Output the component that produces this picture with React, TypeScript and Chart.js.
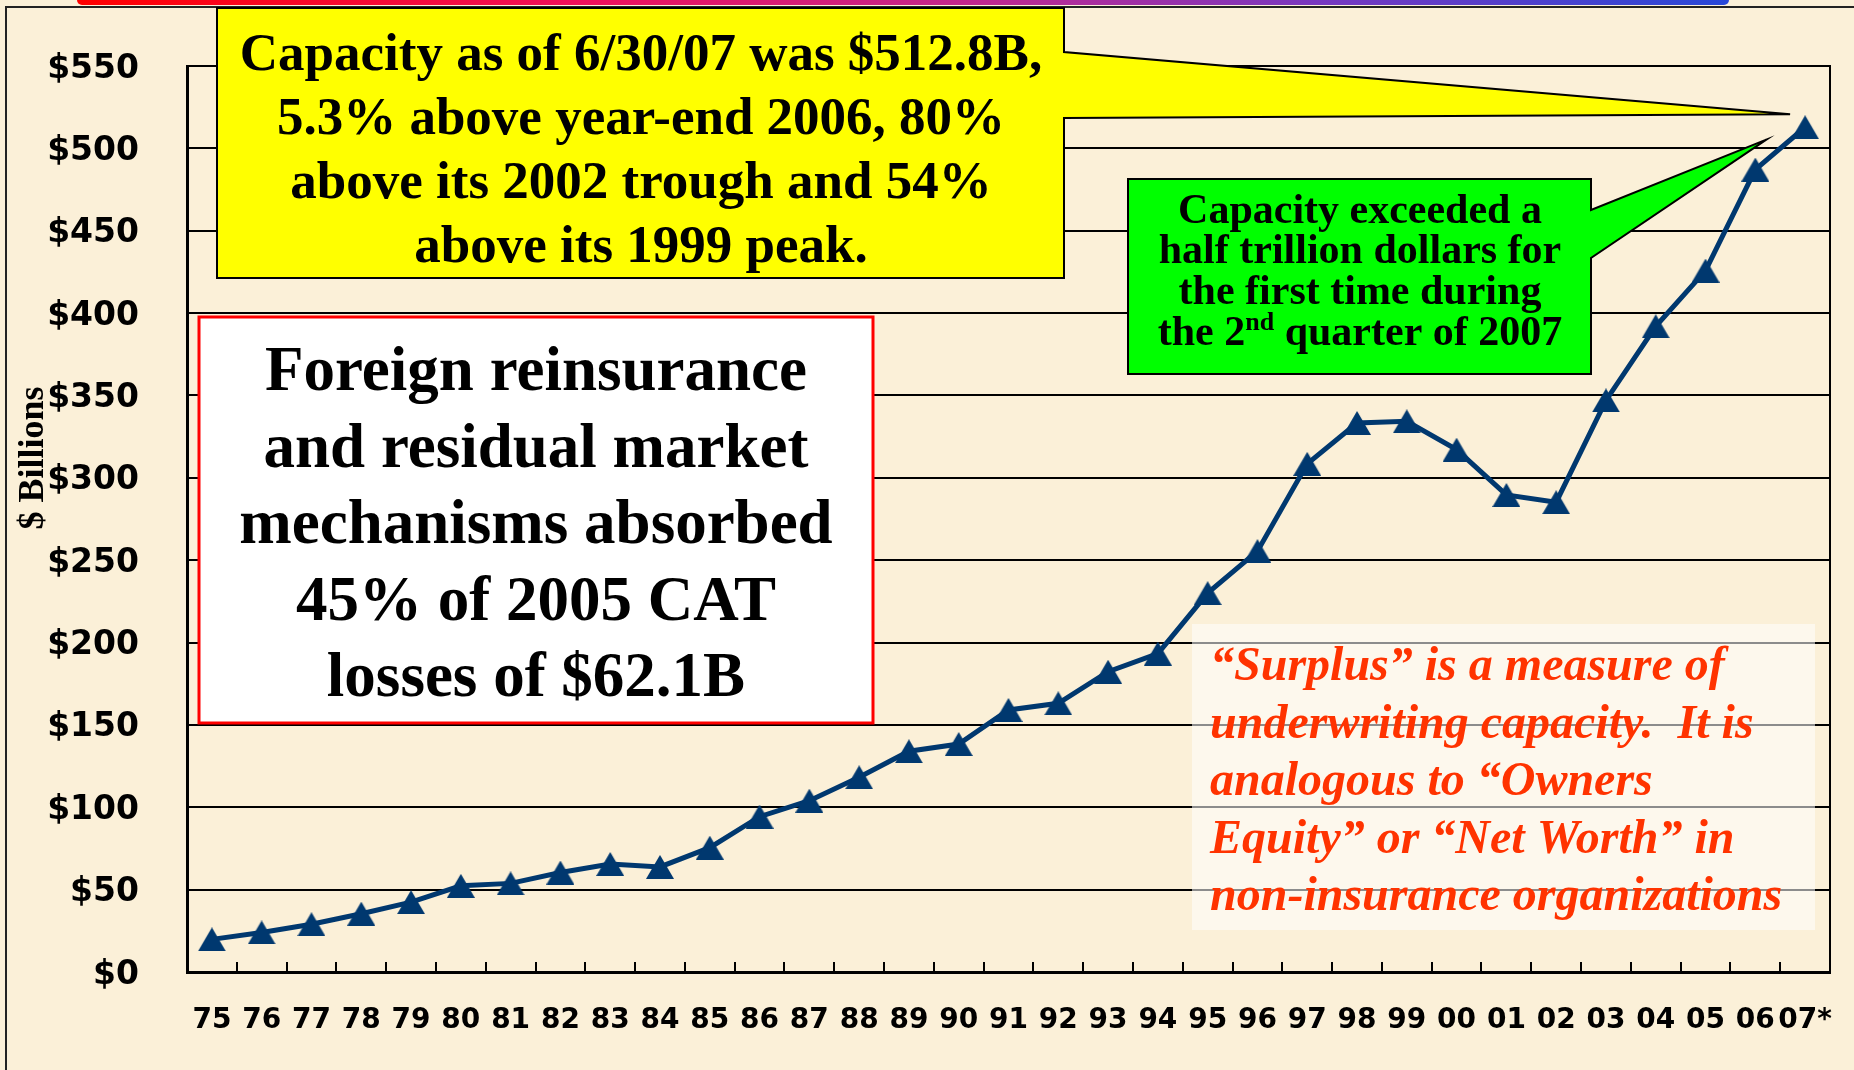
import React, { useEffect, useRef } from 'react';
import { Chart, registerables } from 'chart.js';

Chart.register(...registerables);

// ---------- data ----------
const yearLabels = ['75', '76', '77', '78', '79', '80', '81', '82', '83', '84', '85', '86', '87', '88', '89', '90', '91', '92', '93', '94', '95', '96', '97', '98', '99', '00', '01', '02', '03', '04', '05', '06', '07*'];
const surplusBillions = [19.8, 24.0, 29.0, 35.4, 42.4, 52.3, 53.8, 60.4, 65.6, 63.8, 75.5, 94.3, 104.0, 118.2, 134.0, 138.4, 159.1, 163.1, 182.3, 193.3, 230.0, 255.5, 308.5, 333.3, 334.3, 317.1, 289.6, 285.2, 347.0, 392.0, 425.8, 487.1, 512.8];
const yTickLabels = ['$0', '$50', '$100', '$150', '$200', '$250', '$300', '$350', '$400', '$450', '$500', '$550'];
const yAxisTitle = '$ Billions';

const capacityNote = ['Capacity as of 6/30/07 was $512.8B,', '5.3% above year-end 2006, 80%', 'above its 2002 trough and 54%', 'above its 1999 peak.'];
const foreignNote = ['Foreign reinsurance', 'and residual market', 'mechanisms absorbed', '45% of 2005 CAT', 'losses of $62.1B'];
const halfTrillionNote = ['Capacity exceeded a', 'half trillion dollars for', 'the first time during'];
const halfTrillionLast = ['the 2', 'nd', ' quarter of 2007'];
const surplusNote = ['\u201CSurplus\u201D is a measure of', 'underwriting capacity.  It is', 'analogous to \u201COwners', 'Equity\u201D or \u201CNet Worth\u201D in', 'non-insurance organizations'];

// ---------- style ----------
const NAVY = '#00386F';
const SERIF = '"Liberation Serif", "Times New Roman", serif';
const SANS = '"DejaVu Sans", sans-serif';

function makeTriangle(w: number, h: number, color: string) {
  const c = document.createElement('canvas');
  c.width = w;
  c.height = h;
  const g = c.getContext('2d') as CanvasRenderingContext2D;
  g.fillStyle = color;
  g.beginPath();
  g.moveTo(w / 2, 0);
  g.lineTo(w, h);
  g.lineTo(0, h);
  g.closePath();
  g.fill();
  return c;
}

function drawLines(ctx: CanvasRenderingContext2D, lines: string[], x: number, base: number, step: number, align: CanvasTextAlign) {
  ctx.textAlign = align;
  ctx.textBaseline = 'alphabetic';
  lines.forEach((t, i) => ctx.fillText(t, x, base + i * step));
}

const decorPlugin = {
  id: 'decor',
  beforeDatasetsDraw(chart: any) {
    const { ctx, chartArea: a, scales } = chart;
    const xs = scales.x;
    const ys = scales.y;
    const n = surplusBillions.length;
    ctx.save();

    // right frame of plot
    ctx.strokeStyle = '#000';
    ctx.lineWidth = 2;
    ctx.beginPath();
    ctx.moveTo(a.right, a.top - 1);
    ctx.lineTo(a.right, a.bottom);
    ctx.stroke();

    // white box with red border
    ctx.fillStyle = '#FFFFFF';
    ctx.fillRect(199, 317, 674, 406);
    ctx.strokeStyle = '#FF0000';
    ctx.lineWidth = 3;
    ctx.strokeRect(199, 317, 674, 406);

    // yellow callout pointing at the last point
    const lx = xs.getPixelForValue(n - 1);
    const ly = ys.getPixelForValue(surplusBillions[n - 1]);
    ctx.beginPath();
    ctx.moveTo(217, 8);
    ctx.lineTo(1064, 8);
    ctx.lineTo(1064, 52);
    ctx.lineTo(lx - 15, ly - 13);
    ctx.lineTo(1064, 118);
    ctx.lineTo(1064, 278);
    ctx.lineTo(217, 278);
    ctx.closePath();
    ctx.fillStyle = '#FFFF00';
    ctx.fill();
    ctx.strokeStyle = '#000';
    ctx.lineWidth = 2;
    ctx.lineJoin = 'miter';
    ctx.stroke();

    // green callout pointing near the 2006 point
    const gx = xs.getPixelForValue(n - 2);
    const gy = ys.getPixelForValue(surplusBillions[n - 2]);
    ctx.beginPath();
    ctx.moveTo(1128, 179);
    ctx.lineTo(1591, 179);
    ctx.lineTo(1591, 210);
    ctx.lineTo(gx + 11, gy - 30);
    ctx.lineTo(1591, 258);
    ctx.lineTo(1591, 374);
    ctx.lineTo(1128, 374);
    ctx.closePath();
    ctx.fillStyle = '#00FF00';
    ctx.fill();
    ctx.strokeStyle = '#000';
    ctx.lineWidth = 2;
    ctx.stroke();

    // translucent box behind surplus note
    ctx.fillStyle = 'rgba(255,255,255,0.55)';
    ctx.fillRect(1192, 624, 623, 306);

    // texts
    ctx.fillStyle = '#000';
    ctx.font = `bold 53px ${SERIF}`;
    drawLines(ctx, capacityNote, 641, 70, 64, 'center');

    ctx.font = `bold 63px ${SERIF}`;
    drawLines(ctx, foreignNote, 536, 390, 76.5, 'center');

    ctx.font = `bold 42px ${SERIF}`;
    drawLines(ctx, halfTrillionNote, 1360, 222.5, 40.7, 'center');
    // last line with superscript
    const b4 = 222.5 + 3 * 40.7;
    ctx.font = `bold 42px ${SERIF}`;
    const w1 = ctx.measureText(halfTrillionLast[0]).width;
    const w3 = ctx.measureText(halfTrillionLast[2]).width;
    ctx.font = `bold 26px ${SERIF}`;
    const w2 = ctx.measureText(halfTrillionLast[1]).width;
    let sx = 1360 - (w1 + w2 + w3) / 2;
    ctx.textAlign = 'left';
    ctx.font = `bold 42px ${SERIF}`;
    ctx.fillText(halfTrillionLast[0], sx, b4);
    sx += w1;
    ctx.font = `bold 26px ${SERIF}`;
    ctx.fillText(halfTrillionLast[1], sx, b4 - 15);
    sx += w2;
    ctx.font = `bold 42px ${SERIF}`;
    ctx.fillText(halfTrillionLast[2], sx, b4);

    ctx.fillStyle = '#FF3300';
    ctx.font = `italic bold 48px ${SERIF}`;
    drawLines(ctx, surplusNote, 1210, 680, 57.5, 'left');

    ctx.restore();
  },
  afterDraw(chart: any) {
    const { ctx } = chart;
    ctx.save();
    ctx.translate(43, 458);
    ctx.rotate(-Math.PI / 2);
    ctx.fillStyle = '#000';
    ctx.font = `bold 36px ${SERIF}`;
    ctx.textAlign = 'center';
    ctx.textBaseline = 'alphabetic';
    ctx.fillText(yAxisTitle, 0, 0);
    ctx.restore();
  },
};

export default function App() {
  const ref = useRef<HTMLCanvasElement | null>(null);

  useEffect(() => {
    document.body.style.margin = '0';
    document.body.style.overflow = 'hidden';
    const canvas = ref.current;
    if (!canvas) return;
    const marker = makeTriangle(28, 24, NAVY);
    const chart = new Chart(canvas, {
      type: 'line',
      data: {
        labels: yearLabels,
        datasets: [
          {
            label: 'Policyholder surplus',
            data: surplusBillions,
            borderColor: NAVY,
            backgroundColor: NAVY,
            borderWidth: 5,
            pointStyle: marker as any,
            pointRadius: 14,
            pointHoverRadius: 14,
            tension: 0,
            fill: false,
          },
        ],
      },
      options: {
        responsive: false,
        animation: false,
        devicePixelRatio: 1,
        events: [],
        layout: { padding: { top: 66, right: 24, left: 0, bottom: 0 } },
        plugins: {
          legend: { display: false },
          tooltip: { enabled: false },
          title: { display: false },
        },
        scales: {
          x: {
            type: 'category',
            offset: true,
            grid: {
              display: true,
              offset: true,
              drawOnChartArea: false,
              drawTicks: true,
              tickLength: -10,
              color: '#000',
              tickColor: '#000',
              lineWidth: 2,
              tickWidth: 2,
            },
            border: { display: true, color: '#000', width: 3 },
            ticks: {
              autoSkip: false,
              maxRotation: 0,
              minRotation: 0,
              padding: 42,
              color: '#000',
              font: { family: SANS, weight: 'bold', size: 28 },
            },
            afterFit: (s: any) => {
              s.height = 98;
              s.paddingLeft = 0;
              s.paddingRight = 0;
            },
          },
          y: {
            min: 0,
            max: 550,
            ticks: {
              stepSize: 50,
              padding: 48,
              labelOffset: 3,
              color: '#000',
              font: { family: SANS, weight: 'bold', size: 33 },
              callback: (_v: any, i: number) => yTickLabels[i],
            },
            grid: { color: '#000', lineWidth: 2, drawTicks: false },
            border: { display: true, color: '#000', width: 3 },
            afterFit: (s: any) => {
              s.width = 187;
              s.paddingTop = 0;
              s.paddingBottom = 0;
            },
          },
        },
      } as any,
      plugins: [decorPlugin as any],
    });
    return () => chart.destroy();
  }, []);

  return (
    <div style={{ position: 'absolute', left: 0, top: 0, width: 1854, height: 1070, background: '#FBF0D8', overflow: 'hidden' }}>
      <div
        style={{
          position: 'absolute',
          left: 77,
          top: 0,
          width: 1652,
          height: 5,
          background: 'linear-gradient(to right, #FF0000 0%, #F0105A 30%, #C02890 55%, #7838C0 75%, #2848D8 100%)',
          borderRadius: '0 0 6px 6px',
        }}
      />
      <div style={{ position: 'absolute', left: 5, top: 6, right: 0, height: 2, background: '#222' }} />
      <div style={{ position: 'absolute', left: 5, top: 6, width: 2, bottom: 0, background: '#222' }} />
      <canvas ref={ref} width={1854} height={1070} style={{ position: 'absolute', left: 0, top: 0 }} />
    </div>
  );
}
